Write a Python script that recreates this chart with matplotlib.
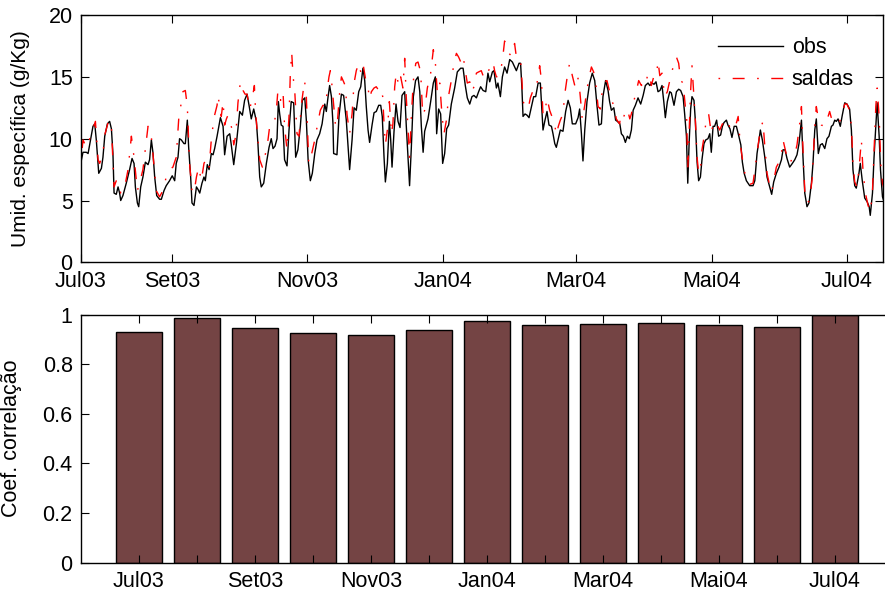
import numpy as np
import matplotlib.pyplot as plt

plt.rcParams['font.family'] = ['Liberation Sans', 'DejaVu Sans']
plt.rcParams['lines.scale_dashes'] = False

# eixo x em dias contados a partir de 22/07/2003
inicio = np.datetime64('2003-07-22')
dias_total = 361.1

# umidade especifica observada (g/Kg)
obs_dia = [0, 0.9, 2.4, 3.2, 4.4, 5.4, 6.2, 6.9, 8.0, 9.2, 9.9, 10.7, 11.9, 12.9, 13.7, 14.4, 14.9, 15.9,
           16.7, 17.4, 17.9, 18.9, 20.4, 21.9, 23.0, 23.9, 24.5, 25.4, 26.0, 26.9, 27.9, 29.0, 30.2, 30.9,
           31.7, 32.4, 33.2, 34.1, 35.4, 36.2, 37.4, 38.4, 39.9, 41.1, 42.2, 42.9, 43.7, 44.4, 45.2, 46.4,
           47.0, 47.9, 48.5, 49.4, 50.0, 50.9, 52.0, 52.7, 53.5, 54.5, 55.4, 56.0, 56.9, 57.7, 58.7, 59.5,
           60.2, 61.3, 62.8, 64.0, 64.7, 65.8, 67.0, 67.7, 68.8, 70.0, 71.5, 72.7, 73.7, 74.8, 75.7, 76.7,
           77.8, 79.0, 79.7, 80.5, 81.2, 82.3, 83.5, 84.7, 85.7, 86.5, 87.4, 88.3, 88.9, 89.5, 90.2, 91.0,
           91.7, 92.8, 93.7, 94.7, 95.8, 96.7, 97.7, 98.8, 99.7, 100.8, 101.5, 102.3, 103.3, 104.2, 105.3,
           106.3, 107.5, 108.6, 109.8, 110.5, 111.3, 112.0, 112.8, 113.5, 113.8, 115.3, 116.2, 117.3, 118.3,
           119.5, 121.0, 122.1, 123.0, 124.0, 125.1, 126.0, 127.0, 127.8, 128.5, 129.3, 130.0, 131.1, 132.0,
           133.0, 134.1, 135.0, 135.7, 136.5, 137.1, 138.0, 138.9, 139.5, 140.1, 141.0, 141.9, 142.8, 143.7,
           144.6, 145.8, 146.5, 147.3, 148.0, 148.8, 149.7, 150.7, 151.8, 152.6, 153.3, 154.1, 154.8, 156.3,
           157.5, 158.7, 159.6, 160.2, 161.1, 162.0, 162.9, 163.8, 164.7, 165.6, 166.8, 168.3, 169.5, 171.0,
           172.1, 173.1, 174.0, 175.1, 176.1, 177.0, 178.1, 179.1, 180.0, 181.1, 182.3, 183.3, 184.1, 185.3,
           186.0, 187.1, 187.8, 188.9, 189.8, 190.8, 191.9, 193.1, 194.3, 195.3, 196.1, 197.3, 198.0, 198.6,
           199.1, 200.0, 200.9, 201.8, 202.9, 203.9, 204.8, 205.9, 206.9, 207.5, 208.1, 209.0, 209.9, 210.8,
           211.9, 212.6, 213.4, 214.1, 215.0, 215.9, 217.1, 218.3, 219.4, 220.4, 221.3, 222.8, 223.9, 224.6,
           225.4, 226.1, 226.9, 227.9, 229.1, 230.3, 231.4, 232.4, 233.3, 234.4, 235.1, 236.3, 237.4, 238.1,
           238.9, 240.0, 240.8, 241.6, 242.7, 243.4, 244.3, 245.2, 246.1, 247.0, 247.9, 248.7, 249.7, 250.9,
           252.1, 253.2, 254.2, 255.4, 256.2, 257.2, 258.1, 259.0, 259.9, 260.8, 261.7, 262.5, 263.2, 264.1,
           265.2, 265.9, 267.1, 268.2, 269.2, 270.1, 271.2, 271.9, 272.7, 273.3, 273.9, 274.6, 275.2, 276.1,
           276.7, 277.5, 278.2, 279.0, 279.7, 280.6, 281.4, 282.4, 283.2, 283.9, 284.7, 285.4, 286.3, 287.2,
           288.1, 288.9, 289.6, 290.7, 291.4, 292.3, 293.2, 294.2, 295.2, 296.3, 297.2, 297.9, 298.7, 299.7,
           301.2, 302.7, 303.5, 304.5, 305.4, 306.0, 306.9, 308.0, 309.0, 310.2, 311.1, 312.0, 313.2, 314.4,
           315.5, 316.2, 317.1, 318.0, 319.2, 320.4, 321.5, 322.5, 323.4, 324.5, 325.2, 326.0, 327.0, 327.9,
           329.0, 329.7, 330.5, 331.2, 332.1, 333.0, 333.9, 335.0, 336.0, 336.9, 338.0, 338.7, 339.5, 340.2,
           341.0, 342.0, 342.9, 344.0, 345.0, 346.2, 347.0, 347.7, 348.5, 349.2, 350.4, 351.0, 351.9, 353.0,
           354.1, 355.0, 355.5, 356.5, 357.2, 358.0, 358.6, 359.5, 360.1, 361.0, 361.7]
obs_val = [8.1, 8.9, 8.9, 8.8, 10.0, 11.0, 11.2, 9.9, 7.2, 7.6, 8.5, 10.2, 11.2, 11.4, 10.8, 8.8, 5.6, 5.5,
           6.1, 5.6, 5.0, 5.4, 6.4, 7.5, 8.4, 8.0, 6.1, 4.8, 4.5, 6.1, 6.9, 8.1, 7.9, 8.3,
           9.9, 8.9, 6.9, 5.4, 5.1, 5.1, 5.8, 6.2, 6.6, 7.0, 6.6, 8.0, 8.5, 10.0, 9.9, 9.6,
           9.6, 11.5, 9.3, 6.9, 4.8, 4.6, 6.1, 5.9, 5.6, 6.4, 6.9, 6.6, 7.9, 7.5, 8.8, 8.7,
           9.2, 10.2, 11.7, 11.0, 8.7, 10.2, 10.4, 9.5, 7.9, 9.6, 12.2, 11.9, 13.1, 13.6, 12.7, 11.6,
           12.4, 11.4, 9.6, 6.9, 6.1, 6.4, 8.0, 9.3, 10.0, 9.2, 9.4, 10.0, 13.0, 12.0, 11.1, 11.0,
           8.3, 7.8, 10.7, 13.0, 12.9, 8.5, 9.1, 11.0, 13.1, 13.3, 11.5, 8.3, 6.6, 7.2, 8.8,
           9.9, 10.4, 11.2, 12.8, 12.2, 13.4, 14.3, 13.4, 11.2, 8.8, 8.7, 11.8, 13.6, 13.5,
           11.5, 7.5, 9.9, 12.5, 12.3, 13.8, 14.2, 15.7, 14.7, 12.6, 10.7, 9.7, 11.1, 12.1,
           12.2, 12.7, 12.7, 11.8, 8.5, 6.5, 8.0, 11.4, 9.9, 7.7, 10.6, 12.8, 11.4, 10.9,
           13.5, 13.8, 11.1, 8.5, 6.2, 9.3, 13.4, 14.7, 15.0, 13.8, 11.0, 8.9, 10.6, 11.6,
           13.0, 14.5, 15.0, 10.4, 12.4, 12.0, 8.0, 8.8, 10.8, 11.1, 12.8, 14.1, 15.4, 15.7,
           15.7, 14.3, 13.3, 12.8, 13.4, 13.5, 13.3, 13.8, 14.2, 13.9, 13.8, 15.3, 14.6, 15.4,
           15.5, 14.1, 14.5, 13.4, 15.0, 15.8, 15.3, 16.4, 16.2, 15.8, 15.5, 16.1, 16.1, 14.1,
           11.8, 12.0, 11.9, 11.7, 12.6, 13.4, 13.4, 14.5, 14.5, 12.6, 10.7, 11.5, 12.2, 11.1,
           11.0, 10.4, 9.6, 9.3, 10.0, 10.7, 10.6, 12.2, 13.1, 12.5, 11.2, 11.2, 11.7, 12.4,
           10.4, 8.2, 10.7, 13.0, 14.5, 15.3, 14.7, 12.7, 11.1, 11.2, 13.4, 14.7, 13.9, 13.0,
           12.3, 12.5, 11.5, 11.4, 11.2, 10.4, 10.2, 9.7, 10.2, 10.0, 10.7, 12.3, 12.7, 13.3,
           12.8, 13.5, 14.3, 14.5, 14.3, 14.5, 14.4, 14.6, 13.8, 13.9, 14.3, 13.0, 11.7, 13.0,
           13.8, 13.7, 12.7, 13.8, 14.0, 13.9, 13.4, 12.0, 10.2, 6.4, 9.6, 12.4, 13.4, 13.1,
           11.5, 8.1, 6.6, 6.9, 8.3, 9.6, 9.9, 10.0, 10.4, 8.9, 11.0, 11.0, 11.5, 10.2,
           10.3, 11.0, 11.3, 11.5, 11.1, 10.8, 10.1, 11.0, 11.0, 10.2, 9.5, 8.1, 7.2, 6.6,
           6.2, 6.2, 6.6, 8.8, 9.9, 10.7, 9.9, 8.5, 6.9, 6.1, 5.5, 6.5, 7.2, 7.7,
           8.3, 9.1, 9.1, 8.4, 7.7, 8.0, 8.3, 8.7, 9.6, 11.5, 8.5, 5.6, 4.5, 4.8,
           6.4, 8.0, 10.7, 11.6, 8.8, 9.5, 9.6, 9.2, 10.0, 10.2, 11.0, 11.1, 11.5, 11.4,
           11.6, 11.0, 11.9, 12.9, 12.8, 12.4, 10.7, 7.5, 6.2, 6.0, 7.2, 8.0, 6.6, 5.2,
           4.9, 4.5, 3.8, 5.6, 8.5, 11.0, 12.9, 10.2, 7.5, 5.3, 4.9]

# umidade especifica das saidas do modelo (g/Kg)
sal_dia = [0, 0.9, 2.4, 4.4, 6.5, 7.7, 8.4, 9.9, 10.7, 12.5, 13.7, 14.9, 15.9, 16.7, 17.9, 19.7, 21.2, 22.7,
           23.9, 25.4, 26.4, 27.9, 29.1, 30.2, 31.4, 32.4, 33.9, 35.4, 36.9, 38.4, 39.9, 41.4, 42.9, 44.1,
           44.9, 45.9, 47.0, 47.9, 48.9, 50.0, 50.9, 52.0, 53.0, 54.2, 55.4, 56.5, 57.7, 58.7, 59.9, 61.3,
           61.7, 63.2, 64.0, 64.7, 65.5, 66.2, 67.3, 68.2, 68.8, 69.7, 70.7, 71.8, 73.0, 73.9, 74.8, 76.0,
           77.2, 78.1, 78.7, 79.7, 80.5, 81.7, 82.7, 83.8, 85.0, 86.2, 87.2, 88.0, 88.7, 89.9, 91.0, 91.7,
           92.8, 93.7, 94.3, 94.9, 95.5, 96.3, 97.3, 98.2, 99.3, 100.7, 101.5, 102.6, 103.8, 105.3, 106.8,
           107.8, 109.0, 110.2, 111.0, 111.7, 112.3, 112.9, 113.8, 114.7, 115.6, 116.5, 117.3, 118.3, 119.2,
           119.8, 121.0, 122.1, 123.0, 124.0, 125.1, 126.0, 127.0, 128.1, 129.0, 130.0, 130.8, 132.0, 133.0,
           134.1, 135.0, 135.9, 136.5, 137.1, 138.0, 138.9, 139.8, 140.5, 141.3, 142.0, 143.1, 144.0, 145.0,
           145.8, 146.5, 147.3, 148.0, 148.8, 149.7, 150.8, 151.8, 153.0, 153.9, 154.8, 156.0, 157.5, 158.7,
           159.6, 160.5, 161.6, 162.6, 163.5, 164.6, 165.6, 166.8, 168.0, 169.1, 170.1, 171.3, 172.2, 173.1,
           174.0, 175.1, 176.1, 177.0, 178.1, 179.1, 180.3, 181.5, 182.3, 183.3, 184.4, 185.6, 186.3, 187.1,
           188.6, 189.8, 190.8, 191.6, 192.8, 193.8, 194.6, 195.3, 196.1, 197.3, 198.0, 198.6, 199.1, 200.3,
           201.4, 202.4, 203.6, 204.8, 205.6, 206.6, 207.4, 208.1, 209.0, 209.9, 211.1, 211.9, 212.6, 213.4,
           214.1, 215.0, 215.9, 217.1, 217.9, 218.6, 219.4, 220.1, 221.3, 222.4, 223.4, 224.2, 224.9, 225.8,
           226.9, 227.9, 228.8, 229.9, 230.9, 231.8, 232.9, 233.9, 234.8, 235.9, 236.9, 238.1, 239.3, 240.4,
           241.1, 242.6, 243.1, 244.2, 245.2, 246.1, 247.2, 247.9, 249.1, 250.2, 251.2, 252.4, 253.2, 254.2,
           255.4, 256.2, 256.9, 258.1, 259.2, 259.9, 260.7, 261.7, 262.9, 264.1, 265.2, 266.2, 267.1, 268.2,
           269.2, 270.1, 271.2, 272.2, 272.8, 273.3, 273.9, 274.6, 275.2, 276.1, 276.7, 277.5, 278.2, 279.1,
           279.7, 280.6, 281.7, 282.7, 283.9, 284.7, 285.7, 286.6, 287.7, 288.9, 289.9, 290.7, 291.8, 292.7,
           293.7, 294.8, 296.0, 296.9, 297.8, 298.7, 299.7, 301.2, 302.7, 303.9, 305.0, 306.0, 307.2, 307.9,
           309.0, 310.2, 311.1, 312.0, 313.2, 314.4, 315.5, 316.2, 317.1, 318.0, 319.2, 320.4, 321.5, 322.5,
           323.7, 324.5, 325.2, 326.0, 327.0, 328.2, 329.4, 330.5, 331.2, 332.1, 333.5, 335.0, 336.0, 337.2,
           338.4, 339.5, 340.5, 341.7, 342.9, 344.0, 345.0, 346.2, 347.0, 347.7, 348.5, 349.5, 350.4, 351.5,
           352.2, 353.3, 354.5, 355.6, 356.5, 357.2, 358.0, 358.6, 359.5, 360.2, 361.0, 362.0]
sal_val = [8.1, 9.9, 9.3, 10.2, 11.4, 8.3, 8.0, 8.8, 10.3, 11.5, 11.0, 6.1, 6.6, 6.6, 5.6, 6.1, 7.5, 10.2,
           8.5, 5.8, 6.4, 7.5, 9.3, 11.0, 10.7, 8.8, 5.8, 5.3, 5.8, 6.9, 7.5, 7.7, 8.5, 11.8,
           12.6, 13.8, 13.9, 12.6, 8.0, 5.8, 5.6, 6.9, 7.7, 6.6, 8.0, 8.4, 7.7, 9.9, 11.7, 12.7,
           13.5, 11.8, 13.0, 11.1, 11.6, 11.9, 11.2, 10.7, 9.5, 10.2, 12.9, 14.6, 13.9, 13.6, 13.6, 12.4,
           13.3, 14.3, 12.0, 9.9, 8.3, 7.7, 8.5, 9.3, 11.0, 11.4, 11.4, 12.3, 13.9, 13.1, 13.8, 11.0,
           9.1, 11.8, 15.3, 17.0, 15.1, 13.8, 10.4, 10.2, 12.8, 14.7, 13.4, 8.0, 8.7, 9.9, 11.4,
           12.3, 12.7, 12.6, 14.1, 15.0, 15.5, 14.6, 12.8, 10.9, 11.6, 13.7, 15.0, 14.6, 14.2,
           12.0, 10.4, 12.0, 14.5, 15.5, 16.1, 15.4, 16.1, 14.9, 14.5, 13.2, 13.8, 14.1, 14.2,
           13.9, 14.1, 13.4, 11.2, 9.5, 10.7, 13.0, 10.4, 11.2, 14.2, 15.3, 14.3, 15.0, 14.1,
           16.5, 13.4, 10.7, 8.5, 11.8, 14.7, 16.1, 16.2, 15.4, 11.9, 12.3, 14.1, 15.3, 17.2,
           16.2, 13.7, 14.5, 11.9, 10.4, 11.5, 13.5, 14.7, 16.1, 16.9, 16.6, 16.1, 16.6, 15.5,
           14.5, 14.6, 13.8, 14.2, 15.3, 15.4, 15.5, 14.9, 14.9, 15.4, 15.8, 16.2, 15.5, 15.0,
           15.1, 16.3, 17.9, 17.4, 16.9, 16.7, 17.2, 17.7, 16.6, 16.6, 16.3, 14.7, 13.0, 12.6,
           12.4, 13.3, 13.9, 13.9, 14.7, 15.9, 14.7, 11.9, 12.2, 13.3, 12.3, 11.9, 11.7, 11.1,
           10.3, 11.0, 11.5, 12.0, 13.6, 14.5, 15.5, 16.1, 15.1, 14.3, 15.1, 14.7, 13.4, 11.5,
           12.7, 14.0, 14.9, 15.8, 15.4, 14.6, 12.6, 12.4, 13.9, 14.6, 14.7, 13.8, 13.0, 12.4,
           11.6, 11.2, 11.9, 11.6, 12.2, 12.4, 11.6, 12.0, 13.1, 13.9, 14.7, 14.3, 14.5, 14.3,
           15.3, 15.0, 14.3, 15.1, 15.1, 16.3, 15.1, 15.3, 13.4, 13.8, 14.7, 15.4, 16.2, 16.6,
           16.1, 14.7, 14.5, 12.6, 11.8, 7.5, 10.4, 13.9, 15.9, 13.4, 11.6, 8.5, 7.2, 7.7,
           9.1, 10.1, 11.6, 12.0, 10.4, 11.2, 11.4, 11.1, 10.7, 11.2, 11.1, 11.5, 11.1, 10.8,
           11.1, 11.0, 11.8, 9.6, 8.5, 7.5, 6.6, 6.3, 6.4, 8.0, 9.5, 10.8, 11.4, 9.6,
           7.2, 6.2, 5.7, 6.6, 7.7, 8.1, 8.8, 9.9, 9.2, 8.5, 8.0, 8.4, 8.7, 9.5,
           11.2, 12.6, 9.1, 5.8, 4.8, 5.0, 6.9, 11.0, 12.6, 11.6, 11.1, 11.0, 11.5, 12.2,
           11.4, 11.5, 11.6, 11.4, 12.0, 12.8, 12.8, 12.3, 11.0, 8.0, 6.5, 6.1, 7.5, 9.9,
           7.5, 5.6, 4.6, 4.1, 5.8, 9.0, 12.6, 14.1, 11.8, 8.0, 6.4, 5.8]

# marcas do eixo de tempo
datas_ticks = ['2003-07-22', '2003-09-01', '2003-11-01', '2004-01-01', '2004-03-01', '2004-05-01', '2004-07-01']
rotulos_ticks = ['Jul03', 'Set03', 'Nov03', 'Jan04', 'Mar04', 'Mai04', 'Jul04']

# coeficiente de correlacao mensal
meses = ['Jul03', 'Ago03', 'Set03', 'Out03', 'Nov03', 'Dez03', 'Jan04', 'Fev04', 'Mar04', 'Abr04', 'Mai04', 'Jun04', 'Jul04']
coef = [0.930, 0.985, 0.945, 0.925, 0.917, 0.938, 0.975, 0.960, 0.962, 0.965, 0.958, 0.952, 0.997]

fs = 15.5
fig = plt.figure(figsize=(8.85, 5.97), dpi=100)

# painel de cima: series
ax1 = fig.add_axes([0.0915, 0.5606, 0.9059, 0.4142])
l1, = ax1.plot(obs_dia, obs_val, color='black', lw=1.0)
l2, = ax1.plot(sal_dia, sal_val, color='red', lw=1.0, linestyle=(17.6, (8.6, 9.0, 1.2, 9.0)))
pos_ticks = (np.array(datas_ticks, dtype='datetime64[D]') - inicio).astype(int)
ax1.set_xticks(pos_ticks)
ax1.set_xticklabels(rotulos_ticks)
ax1.set_xlim(0, dias_total)
ax1.set_ylim(0, 20)
ax1.set_yticks([0, 5, 10, 15, 20])
ax1.set_ylabel('Umid. específica (g/Kg)', fontsize=15)
ax1.yaxis.set_label_coords(-0.064, 0.5)
ax1.legend([l1, l2], ['obs', 'saldas'], loc='upper left', bbox_to_anchor=(0.7946, 0.91),
           frameon=False, fontsize=fs, handlelength=3.0, handletextpad=0.42,
           labelspacing=0.5, borderpad=0, borderaxespad=0)

# painel de baixo: barras
ax2 = fig.add_axes([0.0915, 0.0575, 0.9175, 0.4154])
x = np.arange(1, len(coef) + 1)
ax2.bar(x, coef, width=0.8, color='#744444', edgecolor='black', linewidth=1.0)
ax2.set_xlim(0, 14)
ax2.set_ylim(0, 1)
ax2.set_xticks(x)
ax2.set_xticklabels([m if i % 2 == 0 else '' for i, m in enumerate(meses)])
ax2.set_yticks([0, 0.2, 0.4, 0.6, 0.8, 1])
ax2.set_yticklabels(['0', '0.2', '0.4', '0.6', '0.8', '1'])
ax2.set_ylabel('Coef. correlação', fontsize=fs)
ax2.yaxis.set_label_coords(-0.073, 0.5)

for ax in (ax1, ax2):
    ax.tick_params(direction='in', top=True, right=True, length=6, width=0.8,
                   labelsize=fs, pad=6)
    for s in ax.spines.values():
        s.set_linewidth(1.0)

fig.savefig('out.png', dpi=100)
